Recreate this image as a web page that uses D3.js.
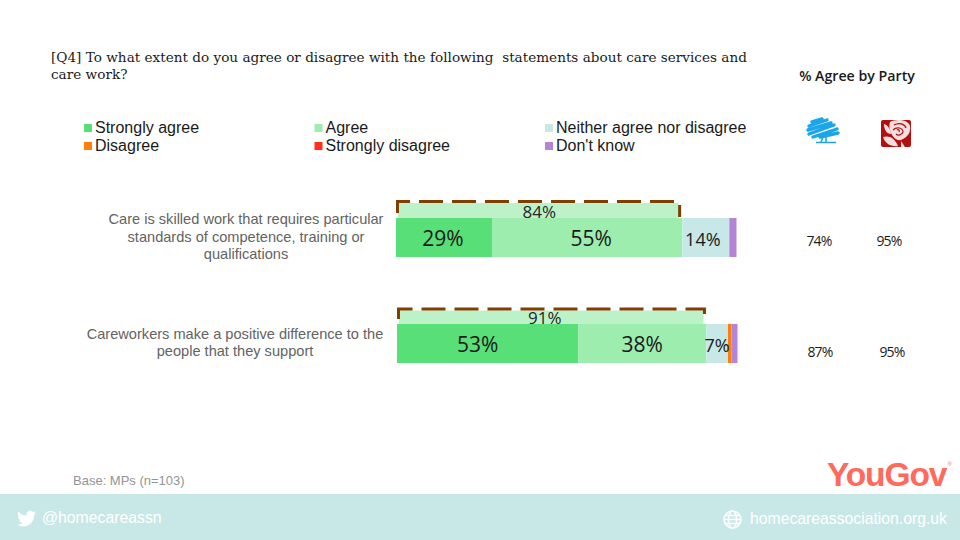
<!DOCTYPE html>
<html>
<head>
<meta charset="utf-8">
<script src="https://cdn.jsdelivr.net/npm/d3@7"></script>
<style>
  html, body { margin: 0; padding: 0; background: #fff; }
  svg { display: block; }
</style>
</head>
<body>
<script>
const questions = [
  ["Care is skilled work that requires particular", "standards of competence, training or", "qualifications"],
  ["Careworkers make a positive difference to the", "people that they support"]
];
const categories = ["Strongly agree", "Agree", "Neither agree nor disagree", "Disagree", "Strongly disagree", "Don't know"];
const colors = ["#58df78", "#9cedae", "#c8e8e8", "#ff7f0e", "#ff3019", "#b584d6"];
const stronglyAgree = [28.2, 53.2];
const agree = [55.9, 37.6];
const neither = [13.8, 6.4];
const disagree = [0, 1];
const stronglyDisagree = [0, 0];
const dontKnow = [2.1, 1.8];
const barLabels = [["29%", "55%", "14%", "", "", ""], ["53%", "38%", "7%", "", "", ""]];
const netAgree = [83, 90];
const netLabels = ["84%", "91%"];
const conservative = ["74%", "87%"];
const labour = ["95%", "95%"];

const series = [stronglyAgree, agree, neither, disagree, stronglyDisagree, dontKnow];

const width = 960, height = 540;
const sans = "'Liberation Sans', Arial, sans-serif";
const open = "'Open Sans', sans-serif";

const svg = d3.select("body").append("svg")
  .attr("width", width)
  .attr("height", height)
  .attr("viewBox", [0, 0, width, height]);

// title
const title = svg.append("text")
  .attr("font-family", "'DejaVu Serif', serif")
  .attr("font-size", 13.6)
  .attr("fill", "#1a1a1a");
title.append("tspan").attr("x", 51).attr("y", 61.5).attr("xml:space", "preserve")
  .text("[Q4] To what extent do you agree or disagree with the following  statements about care services and");
title.append("tspan").attr("x", 51).attr("y", 78.5).text("care work?");

// legend
const legendX = d3.scalePoint().domain([0, 1, 2]).range([84, 545]);
const legendY = d3.scalePoint().domain([0, 1]).range([128, 146]);
const legend = svg.append("g").selectAll("g")
  .data(categories)
  .join("g")
  .attr("transform", (d, i) => `translate(${legendX(i % 3)},${legendY(Math.floor(i / 3))})`);
legend.append("rect")
  .attr("y", -4)
  .attr("width", 8)
  .attr("height", 8)
  .attr("fill", (d, i) => colors[i]);
legend.append("text")
  .attr("x", 11)
  .attr("y", 5)
  .attr("font-family", sans)
  .attr("font-size", 16)
  .attr("fill", "#1a1a1a")
  .text(d => d);

// scales
const x = d3.scaleLinear().domain([0, 100]).range([396, 736.5]);
const y = d3.scaleBand().domain([0, 1]).range([218, 430]).paddingInner(0).paddingOuter(0);
const barH = 39;

// hand placed offsets, the source slide is not quite regular
const rowNudge = [0, 1];
const labelCenter = [246, 235];
const labelShift = [[-1, 4, -3], [-10, 0, 0]];
const netShift = [0, -7];
const bracketDrop = [0, 1.5];
const partyX = [[819, 889], [820, 892]];

questions.forEach((lines, r) => {
  const row = svg.append("g");
  const top = y(r);

  // question label
  const midY = top + barH / 2;
  row.append("text")
    .attr("font-family", sans)
    .attr("font-size", 14.6)
    .attr("fill", "#636363")
    .attr("text-anchor", "middle")
    .selectAll("tspan")
    .data(lines)
    .join("tspan")
    .attr("x", labelCenter[r])
    .attr("y", (d, i) => midY + (i - (lines.length - 1) / 2) * 17.5 + 4)
    .text(d => d);

  // net agree bar behind the bracket
  const netLeft = x(0) + rowNudge[r];
  const netRight = x(netAgree[r]) + rowNudge[r];
  const bracketY = top - 16.5 + bracketDrop[r];
  row.append("rect")
    .attr("x", netLeft + 2)
    .attr("y", bracketY + 1.5)
    .attr("width", netRight - netLeft - 2)
    .attr("height", top - bracketY - 1.5)
    .attr("fill", "#bdf2c9");
  row.append("path")
    .attr("d", `M${netLeft + 1.5},${top - 5}V${bracketY}H${netRight + 1}V${top - 1}`)
    .attr("fill", "none")
    .attr("stroke", "#7f3f00")
    .attr("stroke-width", 3)
    .attr("stroke-dasharray", "24 9");
  row.append("text")
    .attr("x", (x(0) + netRight) / 2 + 2 + netShift[r])
    .attr("y", top)
    .attr("text-anchor", "middle")
    .attr("font-family", open)
    .attr("font-size", 17)
    .attr("fill", "#262626")
    .text(netLabels[r]);

  // stacked segments
  let acc = 0;
  series.forEach((s, i) => {
    const v = s[r];
    const x0 = x(acc) + rowNudge[r];
    const x1 = x(acc + v) + rowNudge[r];
    acc += v;
    if (v > 0) {
      row.append("rect")
        .attr("x", x0)
        .attr("y", top)
        .attr("width", x1 - x0)
        .attr("height", barH)
        .attr("fill", colors[i]);
    }
  });

  // value labels go last so they sit over the narrow segments
  acc = 0;
  series.forEach((s, i) => {
    const v = s[r];
    const cx = x(acc + v / 2) + rowNudge[r];
    acc += v;
    if (barLabels[r][i]) {
      row.append("text")
        .attr("x", cx + labelShift[r][i])
        .attr("y", top + 28)
        .attr("text-anchor", "middle")
        .attr("font-family", open)
        .attr("font-size", i < 2 ? 21 : 18)
        .attr("fill", "#1a1a1a")
        .text(barLabels[r][i]);
    }
  });

  // party columns
  [conservative, labour].forEach((vals, c) => {
    row.append("text")
      .attr("x", partyX[r][c])
      .attr("y", top + 28 + r * 5)
      .attr("text-anchor", "middle")
      .attr("font-family", open)
      .attr("font-size", 14)
      .attr("letter-spacing", -0.8)
      .attr("fill", "#1a1a1a")
      .text(vals[r]);
  });
});

// party header + logos
svg.append("text")
  .attr("x", 857)
  .attr("y", 81)
  .attr("text-anchor", "middle")
  .attr("font-family", open)
  .attr("font-size", 14.2)
  .attr("font-weight", 600)
  .attr("fill", "#1a1a1a")
  .text("% Agree by Party");

const tree = svg.append("g").attr("transform", "translate(806,117)")
  .attr("fill", "none")
  .attr("stroke", "#1aa6e8");
tree.append("path")
  .attr("stroke-width", 3.4)
  .attr("stroke-linecap", "round")
  .attr("d", "M6,5L16,2M3,9L21,3M2,13L25,6M3,17L28,8M7,20L31,12M14,20L32,16");
tree.append("path")
  .attr("stroke-width", 1.5)
  .attr("d", "M17,20L15,25M20,20L20,25M10,25.5H30");

const rose = svg.append("g").attr("transform", "translate(881,120)");
rose.append("rect").attr("width", 30).attr("height", 27).attr("rx", 2).attr("fill", "#b01010");
rose.append("path")
  .attr("d", "M9,2C14,-1 27,-1 29,6C30,12 27,17 20,20C15,21 12,17 10,13C8,9 8,5 9,2Z")
  .attr("fill", "#f6dede");
rose.append("path")
  .attr("d", "M13,5C18,2 24,4 25,8M12,10C16,6 22,8 22,12C21,15 17,16 15,14M16,10C18,9 19,11 18,12")
  .attr("stroke", "#b01010")
  .attr("stroke-width", 1.2)
  .attr("fill", "none");
rose.append("path")
  .attr("d", "M3,4C7,5 10,10 10,14C6,14 3,10 3,4ZM2,17C8,15 14,18 17,26C11,27 4,24 2,17ZM20,21L24,27H20Z")
  .attr("fill", "#f6dede");

// base note and footer
svg.append("text")
  .attr("x", 73)
  .attr("y", 485)
  .attr("font-family", sans)
  .attr("font-size", 13)
  .attr("fill", "#949494")
  .text("Base: MPs (n=103)");

svg.append("text")
  .attr("x", 827)
  .attr("y", 486)
  .attr("font-family", sans)
  .attr("font-size", 33.5)
  .attr("font-weight", 700)
  .attr("letter-spacing", -1.1)
  .attr("fill", "#ff6a5c")
  .text("YouGov");
svg.append("text")
  .attr("x", 947.5)
  .attr("y", 466)
  .attr("font-family", sans)
  .attr("font-size", 6)
  .attr("fill", "#ff6a5c")
  .text("®");

svg.append("rect")
  .attr("y", 494)
  .attr("width", width)
  .attr("height", 46)
  .attr("fill", "#c8e8e7");

svg.append("path")
  .attr("transform", "translate(17,509) scale(0.8)")
  .attr("d", "M24 4.6c-.9.4-1.8.7-2.8.8 1-.6 1.8-1.6 2.2-2.7-1 .6-2 1-3.1 1.2C19.3 2.8 18 2.2 16.6 2.2c-3.2 0-5.5 3-4.8 6C7.7 8 4.1 6.1 1.7 3.1.4 5.3 1 8.2 3.2 9.7c-.8 0-1.6-.2-2.2-.6 0 2.3 1.6 4.4 4 4.9-.7.2-1.5.2-2.2.1.6 2 2.4 3.4 4.6 3.4-2.1 1.6-4.7 2.3-7.4 2 2.2 1.4 4.8 2.2 7.5 2.2 9.1 0 14.3-7.7 14-14.6 1-.7 1.8-1.5 2.5-2.5z")
  .attr("fill", "#fff");
svg.append("text")
  .attr("x", 42)
  .attr("y", 523)
  .attr("font-family", sans)
  .attr("font-size", 15.8)
  .attr("fill", "#fff")
  .text("@homecareassn");

const globe = svg.append("g")
  .attr("transform", "translate(732.5,519.5)")
  .attr("fill", "none")
  .attr("stroke", "#fff")
  .attr("stroke-width", 1.5);
globe.append("circle").attr("r", 8.5);
globe.append("ellipse").attr("rx", 4).attr("ry", 8.5);
globe.append("path").attr("d", "M-8.5,0H8.5M-7.5,-4H7.5M-7.5,4H7.5");

svg.append("text")
  .attr("x", 947)
  .attr("y", 524)
  .attr("text-anchor", "end")
  .attr("font-family", sans)
  .attr("font-size", 15.75)
  .attr("fill", "#fff")
  .text("homecareassociation.org.uk");
</script>
</body>
</html>
